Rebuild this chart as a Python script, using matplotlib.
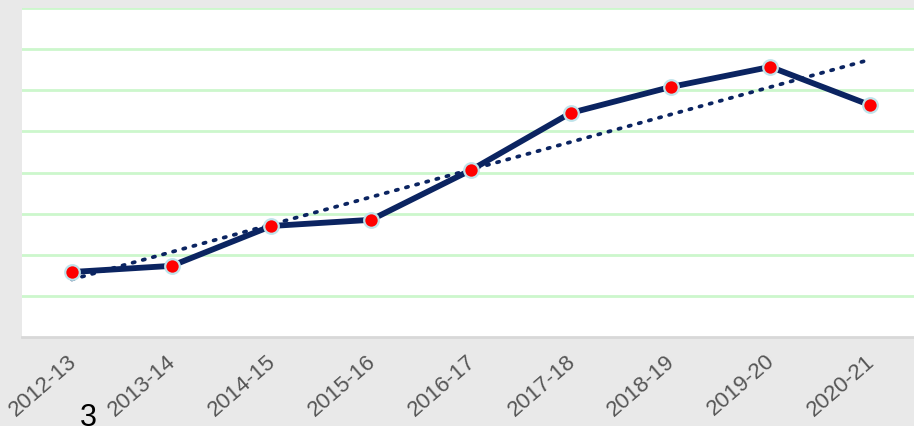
import matplotlib
matplotlib.use('Agg')
import matplotlib.pyplot as plt
import matplotlib.transforms as mtransforms
import numpy as np

# Données
years = ['2012-13', '2013-14', '2014-15', '2015-16', '2016-17',
         '2017-18', '2018-19', '2019-20', '2020-21']
values = [1.58, 1.73, 2.70, 2.85, 4.06, 5.45, 6.08, 6.57, 5.64]
grid_levels = [1, 2, 3, 4, 5, 6, 7, 8]

bg_color = '#e9e9e9'
line_color = '#0b2461'
grid_color = '#ccf7cc'

fig = plt.figure(figsize=(9.14, 4.26), dpi=100, facecolor=bg_color)
ax = fig.add_axes([0.024, 0.209, 0.976, 0.772], facecolor='white')

x = np.arange(len(years))

# Grille horizontale
for g in grid_levels:
    ax.axhline(y=g, color=grid_color, linewidth=2, zorder=1)

# Courbe principale
ax.plot(x, values, color=line_color, linewidth=4.2, zorder=3,
        solid_capstyle='round')
ax.plot(x, values, linestyle='none', marker='o', markersize=10.5,
        markerfacecolor='#ff0000', markeredgecolor='#bfe3ea',
        markeredgewidth=1.6, zorder=5)

# Tendance linéaire
coef = np.polyfit(x, values, 1)
trend = np.polyval(coef, x)
ax.plot(x, trend, color=line_color, linestyle=(0, (0.6, 2.2)),
        linewidth=2.7, dash_capstyle='round', zorder=4)

ax.set_xlim(-0.5, 8.44)
ax.set_ylim(0, 8)
ax.set_yticks([])
ax.set_xticks(x)
ax.tick_params(axis='x', length=0, pad=10, labelsize=16, labelcolor='#555555')
ax.set_xticklabels(years)
shift = mtransforms.ScaledTranslation(-5 / 100, 0, fig.dpi_scale_trans)
for lbl in ax.get_xticklabels():
    lbl.set_rotation(41)
    lbl.set_ha('right')
    lbl.set_rotation_mode('anchor')
    lbl.set_family('Liberation Sans')
    lbl.set_fontsize(16)
    lbl.set_transform(lbl.get_transform() + shift)

for side in ['top', 'left', 'right']:
    ax.spines[side].set_visible(False)
ax.spines['bottom'].set_color('#d8d8d8')
ax.spines['bottom'].set_linewidth(2)

fig.text(88 / 914, 1 - 403 / 426, '3', fontsize=22, color='black',
         ha='center', va='top', family='Liberation Sans')

fig.savefig('out.png', dpi=100, facecolor=bg_color)
plt.close(fig)
